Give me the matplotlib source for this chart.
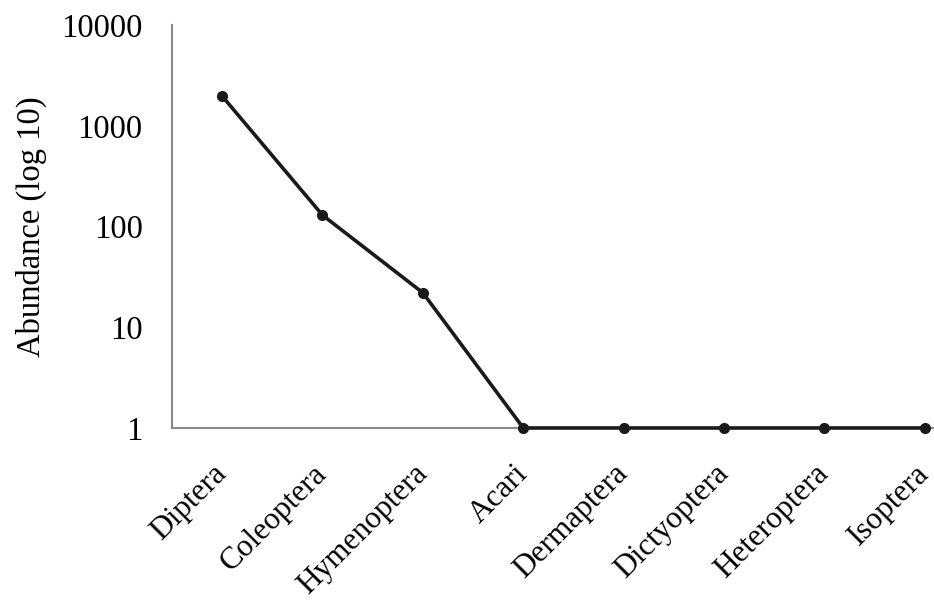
import matplotlib
matplotlib.use("Agg")
import matplotlib.pyplot as plt

orden = ["Diptera", "Coleoptera", "Hymenoptera", "Acari", "Dermaptera",
         "Dictyoptera", "Heteroptera", "Isoptera"]
abundancia = [1980, 130, 22, 1, 1, 1, 1, 1]
ticks_y = [1, 10, 100, 1000, 10000]
etiquetas_y = ["1", "10", "100", "1000", "10000"]

plt.rcParams["font.family"] = ["Liberation Serif", "DejaVu Serif"]

fig = plt.figure(figsize=(9.34, 6), dpi=100)
ax = fig.add_axes([0.184, 0.2867, 0.86, 0.6713])

x = list(range(len(orden)))
ax.plot(x, abundancia, color="#1a1a1a", linewidth=2.6, marker="o",
        markersize=7, clip_on=False, zorder=3)

ax.set_yscale("log")
ax.set_ylim(1, 10000)
ax.set_xlim(-0.5, len(orden) - 0.5)
ax.set_yticks(ticks_y)
ax.set_yticklabels(etiquetas_y, fontsize=23.5)
ax.minorticks_off()
ax.set_xticks(x)
ax.set_xticklabels([])

# etiquetas de categoria rotadas a 45 grados
for i, nombre in enumerate(orden):
    ax.annotate(nombre, xy=(i, 0), xycoords=("data", "axes fraction"),
                xytext=(0, -30), textcoords="offset points",
                rotation=45, ha="right", va="center", rotation_mode="anchor",
                fontsize=22.5, annotation_clip=False)

ax.tick_params(axis="y", length=0, pad=21)
ax.tick_params(axis="x", length=0)

for lado in ["top", "right"]:
    ax.spines[lado].set_visible(False)
for lado in ["left", "bottom"]:
    ax.spines[lado].set_color("#8a8a8a")
    ax.spines[lado].set_linewidth(1.5)

ax.set_ylabel("Abundance (log 10)", fontsize=23.5)
ax.yaxis.set_label_coords(-0.156, 0.5)

fig.savefig("out.png", dpi=100)
